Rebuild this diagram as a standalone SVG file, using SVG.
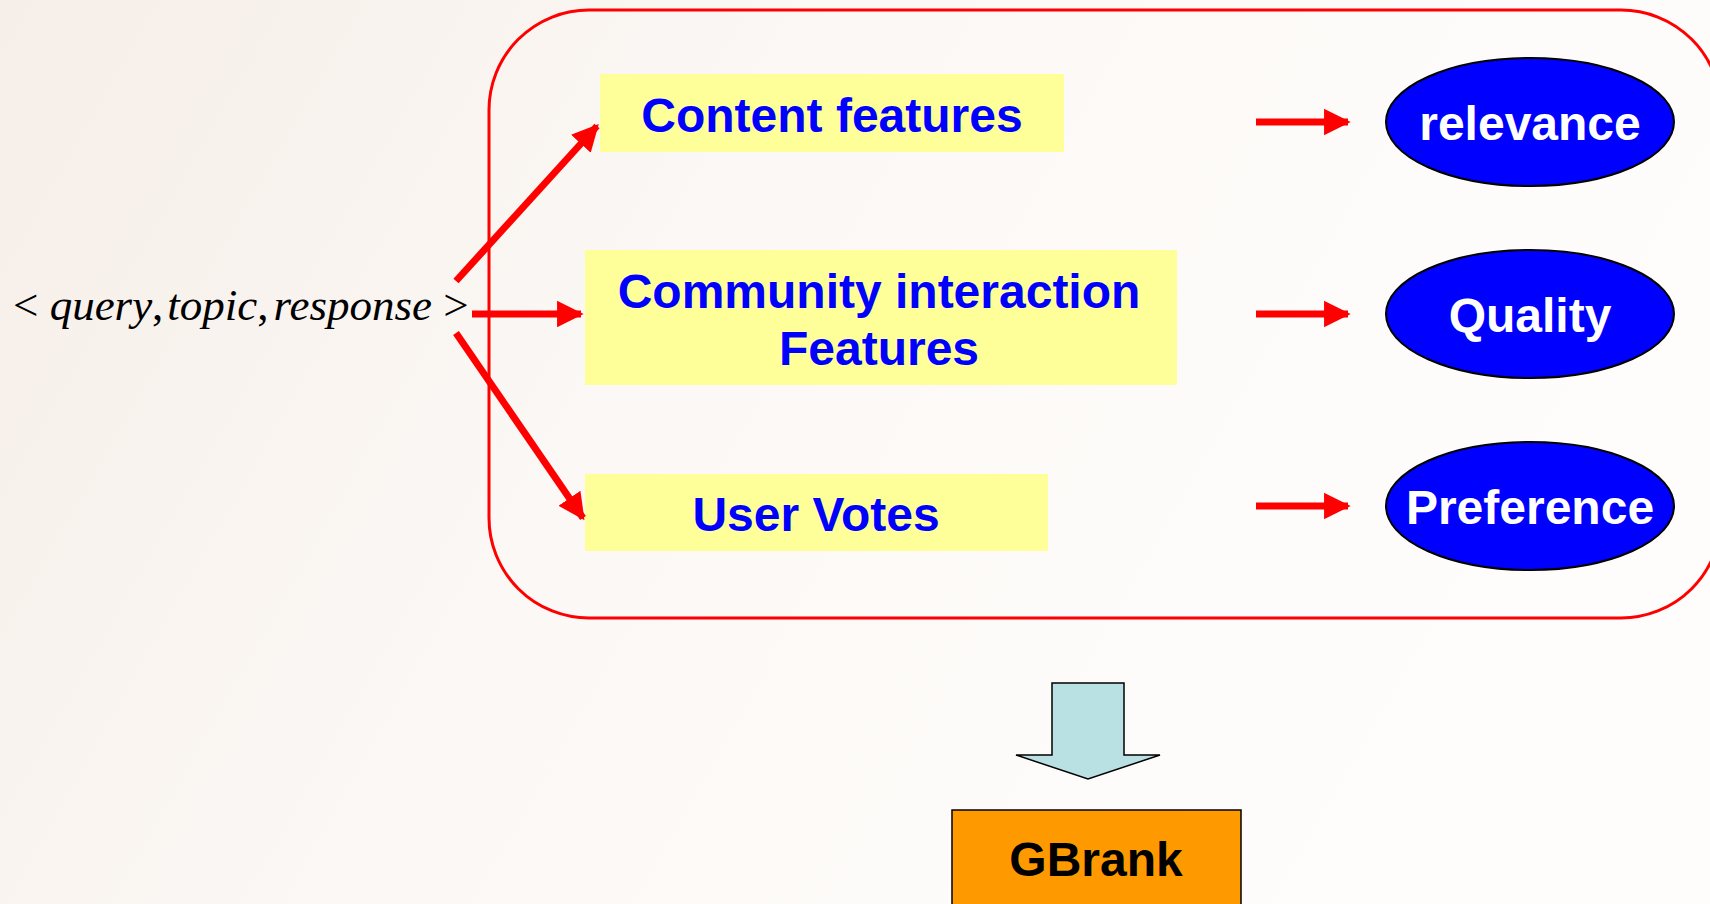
<svg xmlns="http://www.w3.org/2000/svg" width="1710" height="904" viewBox="0 0 1710 904">
<defs>
<linearGradient id="bg" x1="0" y1="0" x2="1" y2="0.3">
<stop offset="0" stop-color="#F6EEE8"/>
<stop offset="0.45" stop-color="#FBF8F5"/>
<stop offset="1" stop-color="#FFFDFC"/>
</linearGradient>
<marker id="ah" viewBox="0 0 10 10" refX="9" refY="5" markerWidth="3.8" markerHeight="4.2" markerUnits="strokeWidth" orient="auto">
<path d="M0,0 L10,5 L0,10 Z" fill="#FF0000"/>
</marker>
<style>
.feat{fill:#FFFF99;stroke:none}
.ftxt{font-family:"Liberation Sans",Arial,sans-serif;font-weight:bold;font-size:48px;fill:#0000FF;text-anchor:middle}
.ell{fill:#0000FF;stroke:#000;stroke-width:2}
.etxt{font-family:"Liberation Sans",Arial,sans-serif;font-weight:bold;font-size:48px;fill:#FFFFFF;text-anchor:middle}
.conn{stroke:#FF0000;stroke-width:7;fill:none;marker-end:url(#ah)}
.q{font-family:"Liberation Serif","Times New Roman",serif;font-size:45px;fill:#000}
</style>
</defs>
<rect x="0" y="0" width="1710" height="904" fill="url(#bg)"/>
<g id="container">
<rect x="489" y="10" width="1232" height="608" rx="100" ry="100" fill="none" stroke="#FF0000" stroke-width="3"/>
</g>
<g id="query">
<text class="q" x="13" y="320">&lt; <tspan font-style="italic">query</tspan>,<tspan font-style="italic" dx="4">topic</tspan>,<tspan font-style="italic" dx="5">response</tspan> &gt;</text>
</g>
<g id="content-features">
<rect class="feat" x="600" y="74" width="464" height="78"/>
<text class="ftxt" x="832" y="132">Content features</text>
</g>
<g id="community-features">
<rect class="feat" x="585" y="250" width="592" height="135"/>
<text class="ftxt" x="879" y="308">Community interaction</text>
<text class="ftxt" x="879" y="365">Features</text>
</g>
<g id="user-votes">
<rect class="feat" x="585" y="474" width="463" height="77"/>
<text class="ftxt" x="816" y="531">User Votes</text>
</g>
<g id="relevance">
<ellipse class="ell" cx="1530" cy="122" rx="144" ry="64"/>
<text class="etxt" x="1530" y="140">relevance</text>
</g>
<g id="quality">
<ellipse class="ell" cx="1530" cy="314" rx="144" ry="64"/>
<text class="etxt" x="1530" y="332">Quality</text>
</g>
<g id="preference">
<ellipse class="ell" cx="1530" cy="506" rx="144" ry="64"/>
<text class="etxt" x="1530" y="524">Preference</text>
</g>
<g id="connectors">
<line class="conn" x1="456" y1="281" x2="597" y2="126"/>
<line class="conn" x1="472" y1="314" x2="581" y2="314"/>
<line class="conn" x1="456" y1="333" x2="583" y2="518"/>
<line class="conn" x1="1256" y1="122" x2="1348" y2="122"/>
<line class="conn" x1="1256" y1="314" x2="1348" y2="314"/>
<line class="conn" x1="1256" y1="506" x2="1348" y2="506"/>
<path d="M1052,683 L1124,683 L1124,755 L1160,755 L1088,779 L1016,755 L1052,755 Z" fill="#B9E0E3" stroke="#000" stroke-width="1.5"/>
</g>
<g id="gbrank">
<rect x="952" y="810" width="289" height="100" fill="#FF9900" stroke="#000" stroke-width="1.5"/>
<text x="1096" y="876" font-family="'Liberation Sans',Arial,sans-serif" font-weight="bold" font-size="48" fill="#000" text-anchor="middle">GBrank</text>
</g>
</svg>
